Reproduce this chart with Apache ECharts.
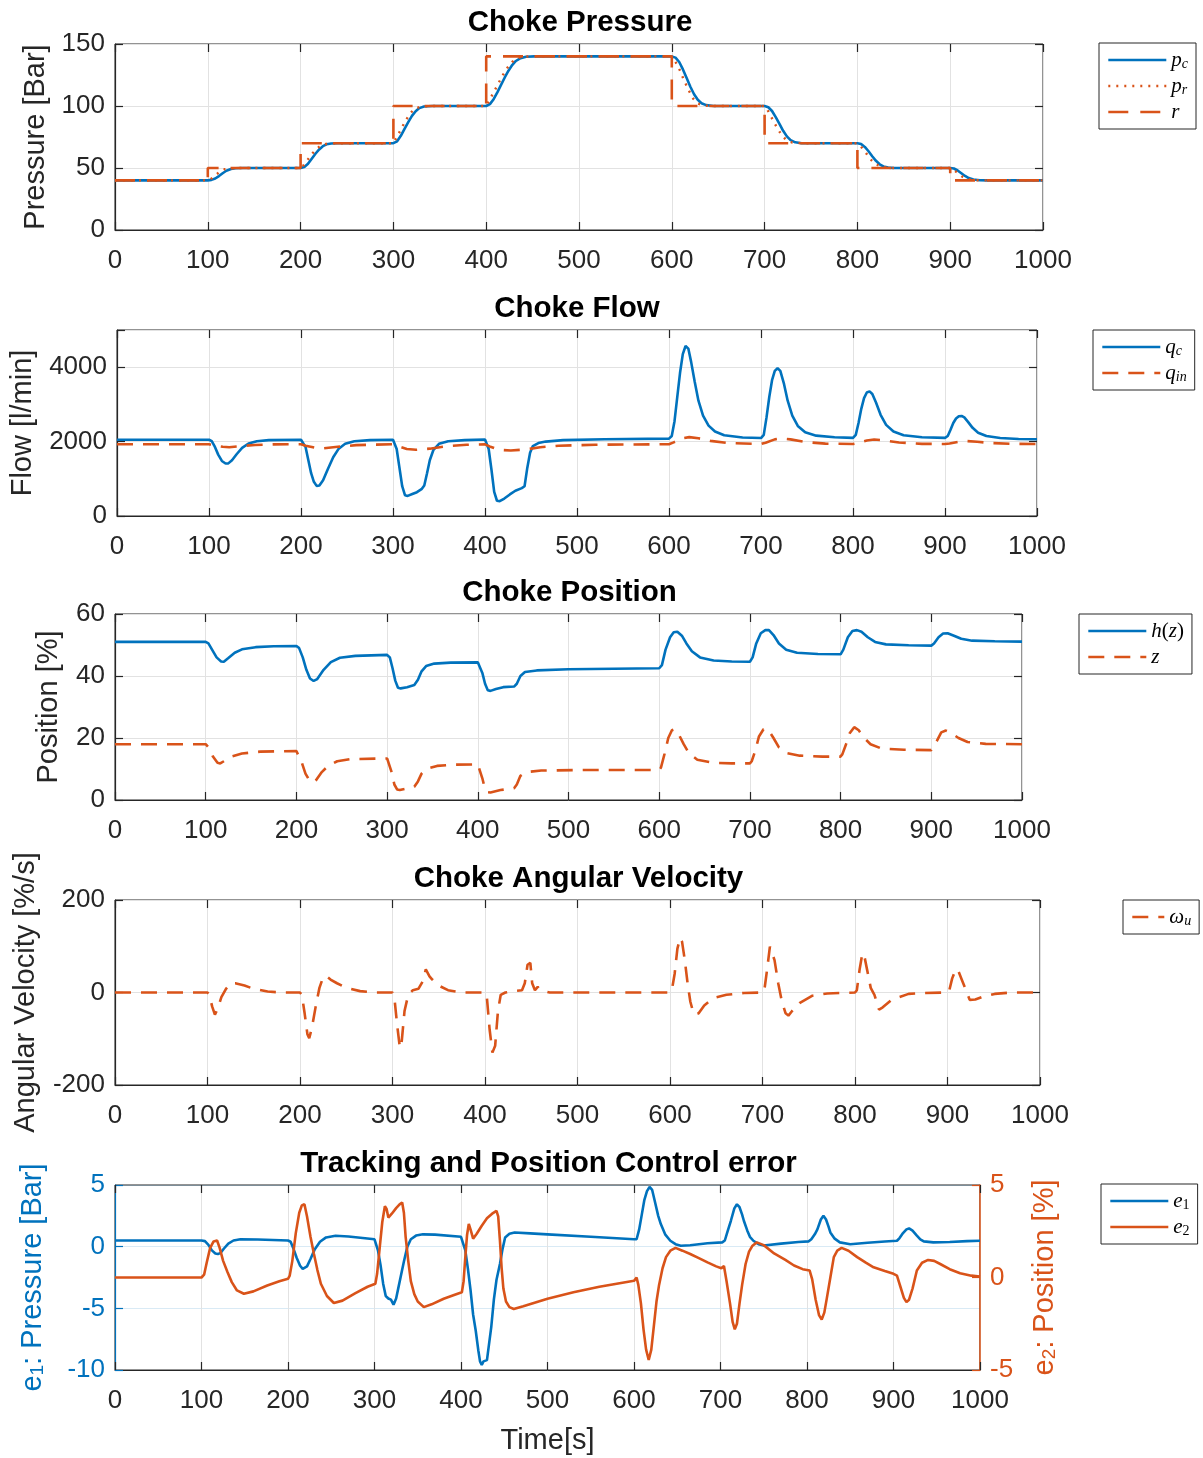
<!DOCTYPE html>
<html><head><meta charset="utf-8">
<script src="https://cdn.jsdelivr.net/npm/echarts@6/dist/echarts.min.js"></script>
<style>html,body{margin:0;padding:0;background:#fff}#c{width:1203px;height:1458px}</style>
</head><body><div id="c"></div><script>
// ---------------- DATA ----------------
const xTicks = [0,100,200,300,400,500,600,700,800,900,1000];
const pressureTicks = [0,50,100,150];
const flowTicks = [0,2000,4000];
const flowMax = 5000;
const positionTicks = [0,20,40,60];
const velocityTicks = [-200,0,200];
const e1Ticks = [-10,-5,0,5];
const e2Ticks = [-5,0,5];

const titles = ['Choke Pressure','Choke Flow','Choke Position','Choke Angular Velocity','Tracking and Position Control error'];

// reference r (step)
const rData = [[0,40],[100,50],[200,70],[300,100],[400,140],[600,100],[700,70],[800,50],[900,40],[1000,40]];
// p_c
const pcData = [[0,40],[100,40],[104,40.4],[108,41.5],[112,43.5],[116,45.8],[120,47.8],[125,49.2],[130,49.8],[138,50],[200,50],[204,50.8],[208,53.5],[212,57.5],[216,61.5],[220,65],[224,67.6],[228,69.1],[233,69.8],[240,70],[300,70],[304,71.5],[308,76],[312,81.5],[316,87],[320,92],[324,95.8],[328,98.3],[333,99.6],[342,100],[400,100],[404,101.5],[408,105.5],[412,111],[416,117],[420,123],[424,128.5],[428,133],[432,136.3],[437,138.6],[443,139.7],[452,140],[600,140],[604,139],[608,135.5],[612,129.5],[616,122.5],[620,115.5],[624,109.5],[628,105],[632,102.2],[637,100.7],[645,100],[700,100],[704,99],[708,96],[712,91],[716,85.5],[720,80],[724,75.5],[728,72.5],[733,70.7],[740,70],[800,70],[804,69.3],[808,67],[812,63.5],[816,59.5],[820,55.8],[824,53],[828,51.3],[833,50.3],[840,50],[900,50],[904,49.6],[908,48],[912,45.8],[916,43.6],[920,41.9],[925,40.7],[932,40.1],[940,40],[1000,40]];
// p_r
const prData = [[0,40],[100,40],[103,41],[108,44],[113,47],[118,49],[125,49.8],[135,50],[200,50],[203,52],[208,57],[213,62],[218,66],[223,68.6],[230,69.8],[240,70],[300,70],[303,74],[308,81],[313,88],[318,94],[323,97.8],[330,99.6],[340,100],[400,100],[403,104],[408,111],[413,118],[418,125],[423,131],[428,135.5],[433,138.5],[440,139.8],[450,140],[600,140],[603,137],[608,130],[613,121],[618,113],[623,106],[628,102],[635,100.3],[645,100],[700,100],[703,97],[708,90],[713,83],[718,77],[723,72.8],[730,70.5],[740,70],[800,70],[803,68],[808,63.5],[813,58],[818,54],[825,51],[835,50],[900,50],[903,49],[908,46],[913,43],[918,41.2],[925,40.2],[935,40],[1000,40]];

// q_c
const qcData = [[0,2050],[100,2050],[103,2010],[106,1880],[110,1650],[114,1480],[118,1410],[121,1415],[125,1500],[130,1660],[136,1830],[143,1950],[152,2010],[165,2040],[200,2050],
[202,2040],[205,1850],[208,1500],[211,1150],[214,920],[217,810],[220,820],[224,960],[229,1250],[235,1580],[241,1810],[248,1940],[258,2010],[275,2040],[300,2050],
[302,2030],[304,1800],[307,1300],[310,800],[313,560],[316,540],[321,590],[326,640],[331,720],[334,820],[337,1150],[340,1500],[344,1780],[350,1940],[360,2010],[378,2040],[400,2055],
[402,2040],[404,1800],[407,1250],[410,650],[413,410],[416,400],[421,470],[427,580],[433,680],[440,750],[443,800],[446,1300],[449,1700],[452,1880],[458,1960],[466,2000],[485,2040],[530,2065],[600,2080],
[603,2150],[606,2550],[609,3200],[612,3850],[615,4350],[618,4570],[621,4500],[624,4150],[628,3600],[632,3100],[637,2700],[643,2430],[650,2270],[660,2170],[680,2110],[700,2095],
[703,2180],[706,2650],[709,3200],[712,3650],[715,3900],[718,3970],[721,3900],[725,3550],[729,3100],[734,2700],[740,2420],[748,2250],[760,2160],[780,2115],[800,2100],
[803,2180],[806,2500],[809,2880],[812,3170],[815,3320],[818,3350],[821,3280],[825,3050],[830,2720],[836,2450],[844,2270],[855,2170],[875,2115],[900,2100],
[903,2150],[906,2320],[909,2500],[912,2620],[915,2680],[918,2690],[921,2650],[925,2530],[930,2370],[936,2240],[945,2150],[960,2095],[980,2070],[1000,2065]];
// q_in
const qinData = [[0,1930],[100,1930],[105,1900],[115,1860],[122,1850],[135,1880],[150,1910],[170,1925],[200,1930],[205,1890],[215,1835],[225,1820],[240,1860],[260,1905],[300,1930],[305,1880],[315,1800],[325,1780],[340,1810],[360,1880],[380,1915],[400,1925],[405,1870],[415,1780],[428,1760],[445,1790],[460,1850],[480,1890],[520,1915],[600,1930],[605,1980],[615,2090],[622,2120],[632,2090],[645,2020],[665,1960],[700,1935],[705,1970],[715,2060],[722,2085],[732,2060],[748,1990],[770,1945],[800,1935],[805,1960],[815,2030],[823,2055],[835,2030],[850,1975],[875,1940],[900,1935],[905,1950],[915,1995],[923,2015],[935,1995],[950,1960],[975,1940],[1000,1935]];

// h(z)
const hzData = [[0,51],[100,51],[103,50.5],[107,48.5],[112,46],[117,44.7],[120,44.6],[125,45.8],[132,47.5],[140,48.6],[155,49.3],[175,49.6],[200,49.7],
[203,49],[207,46],[211,42],[215,39.2],[219,38.4],[223,39],[230,42],[238,44.5],[248,45.9],[265,46.5],[300,46.8],
[303,46],[306,42.5],[309,38.5],[312,36.2],[315,36],[322,36.4],[330,37.1],[334,38.8],[338,41.5],[343,43.2],[352,44],[370,44.3],[400,44.4],
[402,44],[405,41],[408,37.5],[411,35.4],[414,35.2],[420,35.8],[428,36.4],[440,36.6],[443,37.5],[447,40],[452,41.3],[465,41.8],[500,42.2],[600,42.5],
[603,43.5],[607,48.5],[612,52.5],[616,54.1],[620,54.3],[625,53],[630,50.5],[636,48],[645,46],[660,45],[680,44.7],[700,44.6],
[703,46],[707,50.5],[712,53.8],[717,54.8],[721,54.8],[726,53.2],[732,50.5],[740,48.5],[752,47.5],[775,47.1],[800,47],
[803,48.5],[808,52.5],[813,54.5],[818,54.8],[823,54.3],[830,52.5],[838,51],[850,50.2],[875,49.9],[900,49.8],
[903,50.5],[908,52.5],[913,53.7],[918,53.8],[925,53],[933,52],[945,51.4],[970,51.2],[1000,51.1]];
// z
const zData = [[0,18],[100,18],[103,17],[108,14],[113,12],[116,11.8],[120,12.5],[128,14],[140,15],[160,15.6],[200,15.8],
[202,15.5],[206,12],[210,8.5],[214,6.5],[218,5.6],[222,6.5],[228,9],[235,11],[245,12.5],[260,13.2],[300,13.4],
[302,13],[305,9],[308,5],[311,3.4],[314,3.2],[322,3.7],[330,4.3],[334,6],[338,8.5],[343,10],[355,11],[375,11.4],[400,11.5],
[402,11],[405,7],[408,3.5],[411,2.5],[414,2.4],[425,3.2],[440,3.8],[443,5],[447,7.8],[453,9],[470,9.5],[520,9.7],[600,9.7],
[602,10.5],[606,15],[610,20],[614,22.5],[617,22.8],[621,21.5],[627,18],[633,15],[642,13],[660,12],[680,11.8],[700,11.8],
[702,12.5],[706,16],[710,20.5],[715,22.8],[720,22.8],[726,20],[732,17],[740,15.2],[755,14.3],[780,14],[800,14],
[802,14.8],[806,18],[810,21.5],[815,23.5],[820,22.5],[826,20],[833,18],[845,16.6],[870,16.2],[900,16.1],
[902,16.7],[906,19],[911,21.8],[916,22.4],[922,21.6],[930,20],[940,18.7],[960,18.1],[1000,18]];

// omega_u
const wData = [[0,0],[100,0],[102,-5],[105,-30],[108,-48],[111,-35],[115,-10],[120,8],[125,20],[130,20],[140,15],[150,8],[165,2],[180,0],[200,0],
[202,-5],[205,-45],[208,-90],[210,-99],[213,-75],[217,-30],[221,10],[225,33],[228,36],[233,28],[240,20],[250,10],[265,3],[280,0],[300,0],
[302,-10],[305,-70],[308,-120],[310,-105],[313,-40],[317,-5],[322,5],[328,8],[333,25],[336,50],[338,48],[340,35],[343,28],[350,15],[360,5],[375,0],[400,0],
[402,-10],[405,-80],[408,-130],[411,-115],[414,-40],[417,-5],[422,0],[430,3],[440,5],[443,20],[446,60],[449,64],[451,20],[454,5],[457,12],[460,5],[470,0],[600,0],
[602,5],[605,40],[608,95],[611,118],[613,110],[616,70],[619,20],[622,-20],[625,-42],[627,-48],[631,-45],[637,-28],[647,-12],[661,-5],[680,-1],[700,0],
[702,5],[705,50],[708,99],[710,95],[713,70],[717,20],[721,-20],[725,-45],[728,-50],[732,-40],[740,-23],[754,-7],[770,-2],[800,0],
[802,5],[805,50],[808,85],[810,80],[813,50],[817,10],[821,-5],[826,-37],[830,-32],[840,-15],[858,-3],[875,-1],[900,0],
[902,5],[905,30],[909,51],[912,45],[916,25],[920,5],[924,-16],[930,-15],[937,-10],[951,-3],[970,0],[1000,0]];

// e_1 (left axis) and e_2 (right axis)
const e1Data = [[0,0.5],[100,0.5],[104,0.45],[108,0.15],[112,-0.3],[116,-0.55],[119,-0.6],[122,-0.5],[126,-0.15],[131,0.25],[137,0.5],[145,0.6],[165,0.58],[200,0.5],
[203,0.4],[206,-0.1],[210,-0.9],[214,-1.55],[217,-1.8],[219,-1.85],[222,-1.6],[226,-1.0],[231,-0.2],[237,0.4],[244,0.75],[255,0.88],[270,0.83],[300,0.6],
[302,0.5],[304,-0.3],[307,-1.5],[310,-3.0],[313,-4.0],[316,-4.2],[319,-4.3],[322,-4.7],[325,-4.2],[328,-3.2],[331,-2.2],[334,-1.2],[338,0],[342,0.6],[348,0.9],[356,1.0],[370,0.98],[400,0.8],
[402,0.7],[405,-0.3],[408,-1.8],[411,-3.5],[414,-5.5],[417,-6.8],[420,-8.4],[422,-9.3],[424,-9.6],[426,-9.3],[428,-9.45],[430,-9.2],[432,-9.1],[435,-6.5],[438,-4.3],[441,-2.7],[445,-1.4],[448,-0.2],[451,0.75],[456,1.05],[462,1.15],[480,1.08],[500,1.0],[550,0.8],[600,0.6],
[603,0.6],[606,1.4],[609,2.6],[612,3.8],[615,4.5],[618,4.84],[621,4.6],[624,3.7],[628,2.5],[631,1.83],[636,1.0],[642,0.48],[648,0.2],[654,0.08],[665,0.12],[685,0.28],[702,0.35],
[705,0.5],[708,1.2],[712,2.1],[716,3.1],[719,3.44],[722,3.2],[725,2.6],[727,2.1],[731,1.3],[734,0.8],[738,0.48],[744,0.2],[750,0.1],[770,0.25],[790,0.38],[802,0.43],
[805,0.6],[809,1.0],[812,1.4],[816,2.2],[819,2.5],[822,2.2],[825,1.6],[827,1.15],[832,0.65],[838,0.35],[850,0.2],[870,0.32],[890,0.42],[904,0.48],
[907,0.7],[911,1.1],[915,1.4],[918,1.48],[922,1.3],[927,0.9],[931,0.6],[935,0.43],[946,0.35],[965,0.38],[985,0.45],[1000,0.48]];
const e2Data = [[0,0],[100,0],[103,0.15],[106,0.8],[110,1.6],[114,1.95],[118,2.0],[121,1.6],[125,0.9],[130,0.3],[135,-0.25],[141,-0.7],[149,-0.88],[160,-0.75],[176,-0.43],[190,-0.2],[200,-0.07],
[202,0.1],[205,0.9],[209,2.4],[213,3.5],[216,3.9],[219,3.96],[222,3.3],[226,2.2],[230,1.27],[234,0.4],[238,-0.34],[245,-1.0],[253,-1.38],[263,-1.25],[278,-0.85],[292,-0.5],[301,-0.34],
[303,0.2],[306,1.6],[309,3.0],[312,3.85],[314,3.7],[316,3.24],[320,3.45],[325,3.75],[329,3.95],[332,4.05],[334,3.5],[336,2.2],[339,0.9],[342,-0.2],[346,-0.9],[350,-1.3],[357,-1.6],[366,-1.45],[380,-1.15],[392,-0.95],[401,-0.8],
[403,-0.2],[405,1.1],[407,2.3],[409,2.9],[411,2.6],[414,2.1],[418,2.35],[424,2.8],[430,3.2],[436,3.45],[441,3.6],[443,3.3],[445,2.0],[447,0.5],[449,-0.6],[452,-1.3],[456,-1.6],[461,-1.7],[472,-1.55],[486,-1.35],[500,-1.15],[530,-0.8],[560,-0.5],[585,-0.3],[600,-0.18],
[603,0],[605,-0.4],[608,-1.4],[611,-2.8],[614,-3.9],[617,-4.46],[620,-3.9],[623,-2.6],[626,-1.3],[629,-0.4],[633,0.5],[637,1.1],[642,1.45],[648,1.6],[656,1.45],[665,1.27],[675,1.05],[685,0.82],[695,0.6],[701,0.5],
[704,0.62],[707,-0.2],[711,-1.4],[714,-2.4],[716.5,-2.8],[719,-2.5],[722,-1.4],[725,-0.4],[729,0.73],[733,1.4],[737,1.72],[742,1.9],[750,1.75],[762,1.3],[775,0.95],[785,0.65],[795,0.45],[803,0.38],
[806,-0.1],[810,-1.2],[814,-2.05],[817,-2.27],[820,-1.9],[823,-1.1],[827,0.0],[831,1.1],[835,1.45],[840,1.6],[848,1.45],[858,1.1],[868,0.8],[877,0.55],[890,0.35],[900,0.2],
[904,0.1],[908,-0.5],[912,-1.1],[915,-1.33],[918,-1.2],[922,-0.6],[927,0.38],[933,0.8],[940,0.95],[947,0.9],[954,0.73],[965,0.45],[977,0.23],[990,0.1],[1000,0.05]];

// ---------------- STYLE / LAYOUT ----------------
const BLUE = '#0072BD', ORANGE = '#D95319', INK = '#262626', GRIDC = '#e2e2e2';
const FONT = "'Liberation Sans', Arial, Helvetica, sans-serif";
const SERIF = "'Liberation Serif', 'DejaVu Serif', serif";
const layout = [
  {top:44,   height:186, width:928, yTicks:pressureTicks, yMax:null, yName:'Pressure [Bar]', gap:65},
  {top:330,  height:186, width:922, yTicks:flowTicks, yMax:flowMax, yName:'Flow [l/min]', gap:80},
  {top:614,  height:186, width:907, yTicks:positionTicks, yMax:null, yName:'Position [%]', gap:52},
  {top:900,  height:185, width:925, yTicks:velocityTicks, yMax:null, yName:'Angular Velocity [%/s]', gap:75},
  {top:1185, height:185, width:865, yTicks:e1Ticks, yMax:null, yName:'e{sub|1}: Pressure [Bar]', gap:68}
];
const LEFT = 115;
const NAMEFS = 29;

const grids = [], xAxes = [], yAxes = [], titleArr = [];
const tickStyle = c => ({show:true, inside:true, length:8, lineStyle:{color:c, width:1.2}});
const labelStyle = c => ({show:true, fontSize:26, fontFamily:FONT, color:c});

layout.forEach((L, i) => {
  grids.push({left:LEFT, top:L.top, width:L.width, height:L.height, show:true, borderColor:INK, borderWidth:1, backgroundColor:'#fff'});
  titleArr.push({text:titles[i], left:LEFT + L.width/2 - 4, top:L.top - 26, textAlign:'center', textVerticalAlign:'middle',
    textStyle:{fontSize:29.5, fontWeight:'bold', fontFamily:FONT, color:'#000'}});
  const xb = {type:'value', gridIndex:i, min:xTicks[0], max:xTicks[xTicks.length-1], interval:xTicks[1]-xTicks[0]};
  xAxes.push(Object.assign({}, xb, {position:'bottom',
    axisLine:{show:true, onZero:false, lineStyle:{color:INK, width:1}},
    axisTick:tickStyle(INK),
    axisLabel:Object.assign(labelStyle(INK), {margin:18, formatter:v => String(v)}),
    splitLine:{show:true, lineStyle:{color:GRIDC, width:1}},
    name: i === 4 ? 'Time[s]' : '', nameLocation:'middle', nameGap:56,
    nameTextStyle:{fontSize:NAMEFS, fontFamily:FONT, color:INK}}));
  xAxes.push(Object.assign({}, xb, {position:'top', axisLine:{show:false, onZero:false}, axisTick:tickStyle(INK), axisLabel:{show:false}, splitLine:{show:false}}));

  const t = L.yTicks;
  const yMax = L.yMax != null ? L.yMax : t[t.length-1];
  const yb = {type:'value', gridIndex:i, min:t[0], max:yMax, interval:t[1]-t[0]};
  const isE = i === 4;
  const lc = isE ? BLUE : INK;
  yAxes.push(Object.assign({}, yb, {position:'left',
    axisLine:{show:true, onZero:false, lineStyle:{color:lc, width:1.2}},
    axisTick:tickStyle(lc),
    axisLabel:Object.assign(labelStyle(lc), {margin:10, formatter:v => (v > t[t.length-1] ? '' : String(v))}),
    splitLine:{show:true, lineStyle:{color: isE ? 'rgba(0,114,189,0.15)' : GRIDC, width:1}},
    name:L.yName, nameLocation:'middle', nameRotate:90, nameGap:L.gap,
    nameTextStyle:{fontSize:NAMEFS, fontFamily:FONT, color:lc, rich:{sub:{fontSize:19, fontFamily:FONT, color:lc, verticalAlign:'bottom', padding:[10,0,0,0]}}}}));
  if (isE) {
    yAxes.push({type:'value', gridIndex:i, min:e2Ticks[0], max:e2Ticks[e2Ticks.length-1], interval:e2Ticks[1]-e2Ticks[0], position:'right',
      axisLine:{show:true, onZero:false, lineStyle:{color:ORANGE, width:1.5}},
      axisTick:tickStyle(ORANGE),
      axisLabel:Object.assign(labelStyle(ORANGE), {margin:10, formatter:v => String(v)}),
      splitLine:{show:false},
      name:'e{sub|2}: Position [%]', nameLocation:'middle', nameRotate:90, nameGap:50,
      nameTextStyle:{fontSize:NAMEFS, fontFamily:FONT, color:ORANGE, rich:{sub:{fontSize:19, fontFamily:FONT, color:ORANGE, verticalAlign:'bottom', padding:[10,0,0,0]}}}});
  } else {
    yAxes.push(Object.assign({}, yb, {position:'right', axisLine:{show:false, onZero:false}, axisTick:tickStyle(INK), axisLabel:{show:false}, splitLine:{show:false}}));
  }
});

const legendLabels = {
  'p_c':'{i|p}{s|c}', 'p_r':'{i|p}{s|r}', 'r':'{i|r}',
  'q_c':'{i|q}{s|c}', 'q_in':'{i|q}{s|in}',
  'h(z)':'{i|h}{n|(}{i|z}{n|)}', 'z':'{i|z}',
  'w_u':'{i|ω}{s|u}',
  'e_1':'{i|e}{ns|1}', 'e_2':'{i|e}{ns|2}'
};
const legendRich = {
  i:{fontFamily:SERIF, fontStyle:'italic', fontSize:21, lineHeight:22, color:'#000'},
  n:{fontFamily:SERIF, fontSize:21, lineHeight:22, color:'#000'},
  s:{fontFamily:SERIF, fontStyle:'italic', fontSize:14, lineHeight:22, verticalAlign:'bottom', color:'#000'},
  ns:{fontFamily:SERIF, fontSize:14, lineHeight:22, verticalAlign:'bottom', color:'#000'}
};
function mkLegend(names, left, top, iw) {
  return {show:true, orient:'vertical', left, top, data:names, itemWidth:iw, itemHeight:14, itemGap:4,
    padding:[6,8,6,8], borderColor:INK, borderWidth:1, backgroundColor:'#fff', selectedMode:false,
    itemStyle:{opacity:0, borderWidth:0},
    lineStyle:{width:2.6},
    formatter:n => legendLabels[n], textStyle:{color:'#000', fontSize:20, lineHeight:22, rich:legendRich}};
}
const legends = [
  mkLegend(['p_c','p_r','r'], 1099, 43, 58),
  mkLegend(['q_c','q_in'], 1093, 330, 58),
  mkLegend(['h(z)','z'], 1079, 614, 58),
  mkLegend(['w_u'], 1123, 900, 32),
  mkLegend(['e_1','e_2'], 1101, 1184, 58)
];

function line(name, data, grid, color, type, width, z, yIdx, extra) {
  return Object.assign({type:'line', name, data, xAxisIndex:2*grid, yAxisIndex: yIdx != null ? yIdx : 2*grid,
    symbol:'none', showSymbol:false, animation:false, z, clip:true,
    lineStyle:{color, width, type}, itemStyle:{color}, emphasis:{disabled:true}}, extra || {});
}
const DASH = [16,10];
const series = [
  line('p_c', pcData, 0, BLUE, 'solid', 2.6, 2),
  line('p_r', prData, 0, ORANGE, [2,6], 2.4, 3),
  line('r', rData, 0, ORANGE, [20,12], 2.6, 4, null, {step:'end'}),
  line('q_c', qcData, 1, BLUE, 'solid', 2.6, 2),
  line('q_in', qinData, 1, ORANGE, DASH, 2.6, 3),
  line('h(z)', hzData, 2, BLUE, 'solid', 2.6, 2),
  line('z', zData, 2, ORANGE, DASH, 2.6, 3),
  line('w_u', wData, 3, ORANGE, DASH, 2.6, 3),
  line('e_1', e1Data, 4, BLUE, 'solid', 2.6, 2),
  line('e_2', e2Data, 4, ORANGE, 'solid', 2.6, 3, 9)
];

const chart = echarts.init(document.getElementById('c'), null, {renderer:'canvas'});
chart.setOption({
  animation:false,
  backgroundColor:'#fff',
  title:titleArr,
  grid:grids,
  xAxis:xAxes,
  yAxis:yAxes,
  legend:legends,
  series
});
</script></body></html>
